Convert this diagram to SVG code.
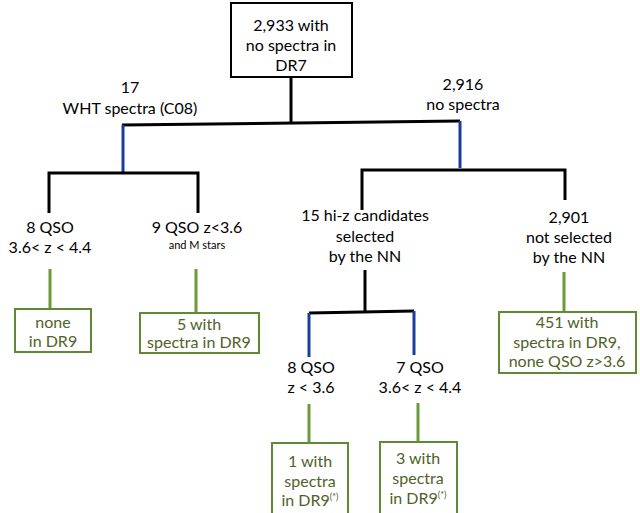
<svg xmlns="http://www.w3.org/2000/svg" width="640" height="513" viewBox="0 0 640 513">
<style>
text{font-family:Lato,"Open Sans","DejaVu Sans",sans-serif;font-size:16px;text-anchor:middle;fill:#000}
.g{fill:#4f6228}
.sm{font-size:11px}
.sup{font-size:9px}
.bk{stroke:#000;stroke-width:3;fill:none}
.bl{stroke:#1a3c9e;stroke-width:3;fill:none}
.gl{stroke:#6a9a3a;stroke-width:3;fill:none}
.gbox{fill:#fff;stroke:#5e8a32;stroke-width:2}
.kbox{fill:#fff;stroke:#000;stroke-width:2}
</style>
<rect width="640" height="513" fill="#fff"/>
<g id="connectors">
<path class="bk" d="M291 77V123"/>
<path class="bk" d="M122 125L460 121"/>
<path class="bl" d="M123 125V172"/>
<path class="bk" d="M49 213V173H198V213"/>
<path class="bl" d="M460 121V168"/>
<path class="bk" d="M362 210V170H565V200"/>
<path class="bk" d="M365 270V312"/>
<path class="bk" d="M309 313L414 311"/>
<path class="bl" d="M309 313V357"/>
<path class="bl" d="M414 311V355"/>
<path class="gl" d="M50 269V309"/>
<path class="gl" d="M196 269V313"/>
<path class="gl" d="M564 272V312"/>
<path class="gl" d="M309 404V443"/>
<path class="gl" d="M418 403V442"/>
</g>
<g id="root">
<rect class="kbox" x="231" y="3" width="121" height="74"/>
<text x="291" y="31">2,933 with</text>
<text x="291" y="51">no spectra in</text>
<text x="291" y="71">DR7</text>
</g>
<g id="wht">
<text x="130" y="93">17</text>
<text x="130" y="114">WHT spectra (C08)</text>
</g>
<g id="nospec">
<text x="463" y="90">2,916</text>
<text x="463" y="110">no spectra</text>
</g>
<g id="qso8a">
<text x="50" y="233">8 QSO</text>
<text x="50" y="253">3.6&lt; z &lt; 4.4</text>
</g>
<g id="qso9">
<text x="197" y="233">9 QSO z&lt;3.6</text>
<text class="sm" x="197" y="249">and M stars</text>
</g>
<g id="cand15">
<text x="365" y="221">15 hi-z candidates</text>
<text x="365" y="242">selected</text>
<text x="365" y="262">by the NN</text>
</g>
<g id="notsel">
<text x="569" y="223">2,901</text>
<text x="569" y="243">not selected</text>
<text x="569" y="263">by the NN</text>
</g>
<g id="qso8b">
<text x="311" y="373">8 QSO</text>
<text x="311" y="393">z &lt; 3.6</text>
</g>
<g id="qso7">
<text x="420" y="373">7 QSO</text>
<text x="420" y="393">3.6&lt; z &lt; 4.4</text>
</g>
<g id="none">
<rect class="gbox" x="15" y="309" width="76" height="43"/>
<text class="g" x="53" y="328">none</text>
<text class="g" x="53" y="347">in DR9</text>
</g>
<g id="five">
<rect class="gbox" x="140" y="313" width="119" height="40"/>
<text class="g" x="199" y="330">5 with</text>
<text class="g" x="199" y="348">spectra in DR9</text>
</g>
<g id="f451">
<rect class="gbox" x="499" y="312" width="137" height="61"/>
<text class="g" x="567" y="328">451 with</text>
<text class="g" x="567" y="348">spectra in DR9,</text>
<text class="g" x="567" y="367">none QSO z&gt;3.6</text>
</g>
<g id="one">
<rect class="gbox" x="272" y="443" width="76" height="80"/>
<text class="g" x="310" y="467">1 with</text>
<text class="g" x="310" y="487">spectra</text>
<text class="g" x="310" y="506">in DR9<tspan class="sup" dy="-6">(*)</tspan></text>
</g>
<g id="three">
<rect class="gbox" x="380" y="442" width="77" height="80"/>
<text class="g" x="418" y="464">3 with</text>
<text class="g" x="418" y="484">spectra</text>
<text class="g" x="418" y="504">in DR9<tspan class="sup" dy="-6">(*)</tspan></text>
</g>
</svg>
